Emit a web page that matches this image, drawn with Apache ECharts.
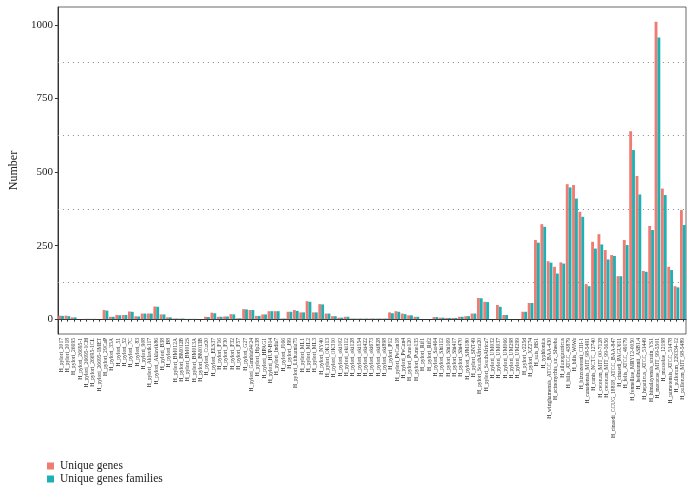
<!DOCTYPE html>
<html>
<head>
<meta charset="utf-8">
<script src="https://cdn.jsdelivr.net/npm/echarts@6/dist/echarts.min.js"></script>
<style>html,body{margin:0;padding:0;background:#fff}#c{width:693px;height:491px}</style>
</head>
<body>
<div id="c"></div>
<script>
const categories = ['H_pylori_2017','H_pylori_2018','H_pylori_26695','H_pylori_26695-1','H_pylori_26695-1CH','H_pylori_26695-1CL','H_pylori_26695-1MET','H_pylori_29CaP','H_pylori_35A','H_pylori_51','H_pylori_52','H_pylori_7C','H_pylori_83','H_pylori_908','H_pylori_Aklavik117','H_pylori_Aklavik86','H_pylori_B38','H_pylori_B8','H_pylori_BM012A','H_pylori_BM012B','H_pylori_BM012S','H_pylori_BM013A','H_pylori_BM013B','H_pylori_Cuz20','H_pylori_ELS37','H_pylori_F16','H_pylori_F30','H_pylori_F32','H_pylori_F57','H_pylori_G27','H_pylori_Gambia94/24','H_pylori_Hp238','H_pylori_HPAG1','H_pylori_HUP-B14','H_pylori_India7','H_pylori_J166','H_pylori_J99','H_pylori_Lithuania75','H_pylori_ML1','H_pylori_ML2','H_pylori_ML3','H_pylori_NY40','H_pylori_OK113','H_pylori_OK310','H_pylori_oki102','H_pylori_oki112','H_pylori_oki128','H_pylori_oki154','H_pylori_oki422','H_pylori_oki673','H_pylori_oki828','H_pylori_oki898','H_pylori_P12','H_pylori_PeCan18','H_pylori_PeCan4','H_pylori_Puno120','H_pylori_Puno135','H_pylori_Rif1','H_pylori_Rif2','H_pylori_Sat464','H_pylori_Shi112','H_pylori_Shi169','H_pylori_Shi417','H_pylori_Shi470','H_pylori_SJM180','H_pylori_SNT49','H_pylori_SouthAfrica20','H_pylori_SouthAfrica7','H_pylori_UM032','H_pylori_UM037','H_pylori_UM066','H_pylori_UM298','H_pylori_UM299','H_pylori_v225d','H_pylori_XZ274','H_suis_HS1','H_typhlonius','H_winghamensis_ATCC_BAA-430','H_acinonychis_str._Sheeba','H_ailurogastricus','H_bilis_ATCC_43879','H_bilis_WiWa','H_bizzozeronii_CIII-1','H_canadensis_MIT_98-5491','H_canis_NCTC_12740','H_cetorum_MIT_00-7128','H_cetorum_MIT_99-5656','H_cinaedi_CCUG_18818_ATCC_BAA-847','H_cinaedi_PAGU611','H_felis_ATCC_49179','H_fennelliae_MRY12-0050','H_heilmannii_ASB1.4','H_hepaticus_ATCC_51449','H_himalayensis_strain_YS1','H_macacae_MIT_99-5501','H_mustelae_12198','H_pametensis_ATCC_51478','H_pullorum_229334-12','H_pullorum_MIT_98-5489'];

const uniqueGenes = [12,12,6,0,1,1,0,31,8,14, 14,26,10,19,19,43,16,6,2,2, 1,1,0,8,22,8,9,17,3,34, 31,11,16,27,27,2,25,31,23,61, 23,51,19,10,5,8,2,2,2,2, 2,2,23,27,19,13,8,0,0,7, 5,4,4,8,10,19,72,59,0,48, 14,0,0,25,55,269,323,197,178,193, 459,456,365,119,263,289,235,218,146,269, 639,487,164,317,1011,444,178,112,371];

const uniqueFamilies = [11,10,6,0,1,1,0,29,8,13, 14,25,9,19,19,42,16,6,2,2, 1,1,0,7,20,8,9,16,3,33, 31,11,16,27,27,2,25,28,23,59, 23,50,19,10,5,8,2,2,2,2, 2,2,20,25,17,13,8,0,0,7, 5,4,4,8,10,19,71,58,0,42, 14,0,0,25,55,260,314,192,155,189, 448,410,348,112,240,254,203,215,146,252, 575,424,161,303,958,422,167,108,320];

const yTicks = [0, 250, 500, 750, 1000];
const minorGrid = [125, 375, 625, 875];
const seriesNames = ['Unique genes', 'Unique genes families'];

const FONT = 'Liberation Serif';
const dataMax = Math.max(...uniqueGenes, ...uniqueFamilies);
const pad = dataMax * 0.05;

const chart = echarts.init(document.getElementById('c'), null, {renderer: 'canvas'});
chart.setOption({
  animation: false,
  backgroundColor: '#fff',
  textStyle: {fontFamily: FONT},
  grid: {left: 48, right: 7, top: 7, bottom: 157, show: true, borderColor: '#444', borderWidth: 0.8, containLabel: false},
  legend: {
    orient: 'vertical', left: 47, top: 460, height: 31, itemWidth: 7, itemHeight: 7, itemGap: 1,
    padding: 0,
    icon: 'rect',
    textStyle: {fontFamily: FONT, fontSize: 11.5, color: '#222', padding: [0,0,0,1], lineHeight: 12},
    data: seriesNames
  },
  xAxis: {
    type: 'category', data: categories,
    axisLine: {show: true, lineStyle: {color: '#333', width: 1}},
    axisTick: {show: true, alignWithLabel: true, length: 2.5, lineStyle: {color: '#333'}},
    axisLabel: {interval: 0, rotate: 90, fontSize: 5.6, color: '#333', margin: 4, fontFamily: FONT},
    splitLine: {show: false}
  },
  yAxis: {
    type: 'value', min: -pad, max: dataMax + pad,
    name: 'Number', nameLocation: 'middle', nameGap: 32,
    nameTextStyle: {fontFamily: FONT, fontSize: 12, color: '#222'},
    axisLine: {show: true, lineStyle: {color: '#333', width: 1}},
    axisTick: {show: true, length: 3, customValues: yTicks, lineStyle: {color: '#333'}},
    axisLabel: {customValues: yTicks, fontSize: 11, color: '#222', margin: 5, fontFamily: FONT,
      formatter: v => (yTicks.indexOf(Math.round(v)) >= 0 && Math.abs(v - Math.round(v)) < 1e-6) ? String(Math.round(v)) : ''},
    splitLine: {show: false}
  },
  series: [
    {
      name: seriesNames[0], type: 'bar', data: uniqueGenes,
      itemStyle: {color: '#F07B71'}, barGap: '0%', barCategoryGap: '10%',
      markLine: {
        silent: true, symbol: 'none', label: {show: false},
        lineStyle: {type: [1, 4], color: '#888', width: 1},
        data: minorGrid.map(v => ({yAxis: v}))
      }
    },
    {
      name: seriesNames[1], type: 'bar', data: uniqueFamilies,
      itemStyle: {color: '#1CB1B4'}, barGap: '0%', barCategoryGap: '10%'
    }
  ]
});
</script>
</body>
</html>
